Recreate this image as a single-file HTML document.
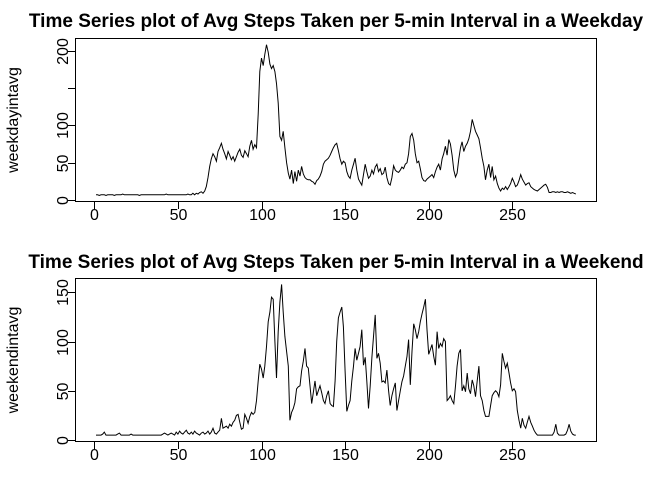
<!DOCTYPE html>
<html><head><meta charset="utf-8"><style>
html,body{margin:0;padding:0;background:#fff;}
svg{display:block;font-family:"Liberation Sans",Arial,sans-serif;}
</style></head><body>
<svg id="chart" width="672" height="480" viewBox="0 0 672 480" xmlns="http://www.w3.org/2000/svg"></svg>
<script>
const xTicks = [0, 50, 100, 150, 200, 250];
const weekdayTicks = [0, 50, 100, 150, 200];
const weekdayTickLabels = ["0", "50", "100", "", "200"];
const weekendTicks = [0, 50, 100, 150];
const weekendTickLabels = ["0", "50", "100", "150"];
const weekdayValues = [
7,7,6,7,7,7,6,7,7,7,7,6,
7,7,7,7,8,7,7,7,7,7,7,7,
7,7,6,7,7,7,7,7,7,7,7,7,
7,7,7,7,7,7,8,7,7,7,7,7,
7,7,7,7,7,7,7,8,7,7,9,7,
9,8,10,11,9,12,18,30,45,55,62,58,
52,65,70,76,68,62,55,65,60,54,58,52,
58,64,68,60,57,66,62,58,72,80,68,74,
70,115,172,190,180,195,208,198,182,176,180,172,
156,130,85,80,92,70,50,36,28,40,22,38,
25,40,32,45,35,30,28,27,27,25,24,21,
26,28,32,38,48,52,54,56,60,65,70,74,
76,66,55,48,52,50,38,32,29,40,48,56,
40,28,24,20,34,48,38,29,32,40,35,44,
48,38,42,34,36,44,30,22,20,30,46,40,
38,37,40,44,42,48,50,62,85,89,80,62,
50,52,42,30,26,25,28,30,32,34,30,38,
44,48,40,55,62,72,60,81,75,60,40,31,
36,55,70,78,65,72,76,82,92,108,100,92,
87,82,70,56,45,27,40,48,30,45,27,32,
22,16,12,16,14,18,14,18,22,29,24,18,
20,26,34,28,24,20,22,23,18,16,14,13,
12,14,16,18,20,21,17,10,10,11,11,10,
11,10,11,11,10,10,11,10,9,10,9,8];
const weekendValues = [
5,5,5,5,6,8,5,5,5,5,5,5,
5,6,7,5,5,5,5,5,5,6,5,5,
5,5,5,5,5,5,5,5,5,5,5,5,
5,5,5,5,6,7,6,5,6,7,6,5,
8,6,9,7,6,8,10,7,6,8,6,9,
7,6,5,7,8,6,7,9,6,8,12,7,
6,8,10,22,12,13,14,12,16,14,18,20,
25,26,18,11,12,26,22,17,24,28,26,28,
40,60,77,72,63,75,95,120,130,145,143,100,
63,110,140,158,130,105,90,75,20,28,32,38,
52,54,55,70,80,93,75,73,55,37,48,60,
45,50,55,48,40,37,45,50,37,35,34,60,
100,124,130,135,115,70,29,35,40,60,75,93,
81,88,95,112,76,84,60,32,55,84,105,127,
83,88,78,59,60,58,71,50,35,45,52,58,
30,40,50,59,65,75,85,102,56,90,118,112,
103,110,120,128,135,143,112,87,92,97,85,76,
110,93,98,95,103,100,40,42,45,40,37,55,
75,88,92,50,55,49,68,52,47,61,55,44,
60,75,45,40,30,24,24,24,35,45,48,50,
48,44,56,88,80,73,78,68,58,50,52,49,
30,20,12,22,15,12,18,24,18,14,10,7,
5,5,5,5,5,5,5,5,5,5,8,16,
7,5,5,5,5,6,10,16,9,6,5,5];

const NS = "http://www.w3.org/2000/svg";
const svg = document.getElementById("chart");
function mk(tag, attrs, parent) {
  const e = document.createElementNS(NS, tag);
  for (const k in attrs) e.setAttribute(k, attrs[k]);
  (parent || svg).appendChild(e);
  return e;
}
const xScale = i => 94.3 + i * 1.672;

function panel(p) {
  const g = mk("g", {});
  
  
  const yScale = v => p.y0 - v * p.k;
  const t = mk("text", {x: 336, y: p.titleY, "text-anchor": "middle", "font-size": "19", "font-weight": "bold", fill: "#000"}, g);
  t.textContent = p.title;
  
  
  const box = mk("rect", {x: 75.5, y: p.boxTop + 0.5, width: 521, height: p.boxBot - p.boxTop, fill: "none", stroke: "#000", "stroke-width": 1}, g);
  
  
  const xa = mk("g", {}, g);
  
  
  mk("line", {x1: xScale(xTicks[0]), x2: xScale(xTicks[xTicks.length - 1]), y1: p.boxBot + 0.5, y2: p.boxBot + 0.5, stroke: "#000"}, xa);
  xTicks.forEach(v => {
    const x = Math.round(xScale(v)) + 0.5;
    mk("line", {x1: x, x2: x, y1: p.boxBot, y2: p.boxBot + 8, stroke: "#000"}, xa);
    const l = mk("text", {x: x, y: p.boxBot + 19, "text-anchor": "middle", "font-size": "16", fill: "#000"}, xa);
    l.textContent = String(v);
    
    
  });
  const ya = mk("g", {}, g);
  
  
  mk("line", {x1: 75.5, x2: 75.5, y1: yScale(p.ticks[0]), y2: yScale(p.ticks[p.ticks.length - 1]), stroke: "#000"}, ya);
  p.ticks.forEach((v, i) => {
    const y = Math.round(yScale(v)) + 0.5;
    mk("line", {x1: 68, x2: 75.5, y1: y, y2: y, stroke: "#000"}, ya);
    if (p.labels[i]) {
      const l = mk("text", {x: 0, y: 0, transform: "translate(68," + y + ") rotate(-90)", "text-anchor": "middle", "font-size": "16", fill: "#000"}, ya);
      l.textContent = p.labels[i];
      
      
    }
  });
  const yt = mk("text", {x: 0, y: 0, transform: "translate(18," + p.yTitleY + ") rotate(-90)", "text-anchor": "middle", "font-size": "16", fill: "#000"}, g);
  yt.textContent = p.yTitle;
  
  
  const pts = p.values.map((v, i) => xScale(i + 1).toFixed(1) + "," + yScale(v).toFixed(1)).join(" ");
  const line = mk("polyline", {points: pts, fill: "none", stroke: "#000", "stroke-width": 1}, g);
  
  
}

panel({name: "weekday-panel", title: "Time Series plot of Avg Steps Taken per 5-min Interval in a Weekday",
  titleY: 27, boxTop: 38, boxBot: 201, y0: 200, k: 0.7467, ticks: weekdayTicks, labels: weekdayTickLabels,
  yTitle: "weekdayintavg", yTitleY: 120, values: weekdayValues, lineName: "weekday-series-line"});
panel({name: "weekend-panel", title: "Time Series plot of Avg Steps Taken per 5-min Interval in a Weekend",
  titleY: 268, boxTop: 278, boxBot: 441, y0: 440, k: 0.9847, ticks: weekendTicks, labels: weekendTickLabels,
  yTitle: "weekendintavg", yTitleY: 360, values: weekendValues, lineName: "weekend-series-line"});
</script>
</body></html>
